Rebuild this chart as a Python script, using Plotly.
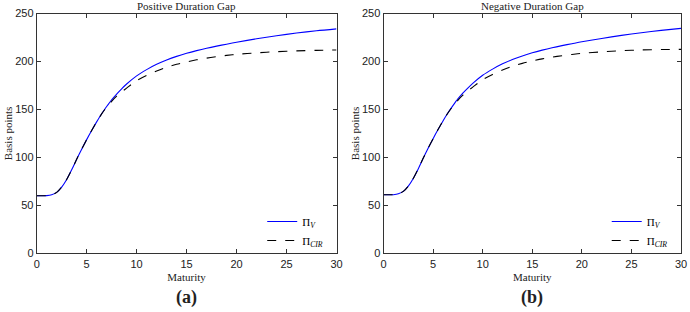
import plotly.graph_objects as go

maturity_a = [0, 0.5, 1, 1.5, 2, 2.5, 3, 3.5, 4, 4.5, 5, 5.5, 6, 6.5, 7, 7.5, 8, 8.5, 9, 10, 11, 12, 13, 14, 15, 16, 17, 18, 19, 20, 22, 24, 26, 28, 30]
pi_v_a = [60, 60, 60.1, 61, 63.5, 69, 77, 87, 98, 108.5, 118.5, 128, 137, 145.5, 153, 160, 166, 171.5, 176.5, 185, 191.5, 197, 201.5, 205.3, 208.5, 211.3, 213.8, 216, 218, 220, 223.6, 226.8, 229.6, 232, 234]
pi_cir_a = [60, 60, 60.1, 61, 63.5, 69, 77, 87, 98, 108.5, 118.5, 128, 137, 145.3, 152.5, 158.5, 163.8, 168.2, 172.2, 180, 185.5, 190, 194, 197, 199.5, 201.7, 203.5, 205, 206.3, 207.4, 209, 210.2, 211, 211.6, 212]

maturity_b = [0, 0.5, 1, 1.5, 2, 2.5, 3, 3.5, 4, 4.5, 5, 5.5, 6, 6.5, 7, 7.5, 8, 8.5, 9, 10, 11, 12, 13, 14, 15, 16, 17, 18, 19, 20, 22, 24, 26, 28, 30]
pi_v_b = [61, 61, 61.1, 62, 64.5, 70, 78, 88, 99, 109.5, 119.5, 129, 138, 146.5, 154, 161, 167, 172.3, 177.2, 185.6, 192, 197.5, 202, 205.8, 209, 211.8, 214.3, 216.5, 218.5, 220.5, 224, 227.2, 230, 232.4, 234.5]
pi_cir_b = [61, 61, 61.1, 62, 64.5, 70, 78, 88, 99, 109.5, 119.5, 129, 138, 146.3, 153.5, 159.5, 164.8, 169.2, 173.2, 181, 186.5, 191, 195, 198, 200.5, 202.7, 204.5, 206, 207.3, 208.4, 210, 211.2, 212, 212.4, 212.6]

titles = ["Positive Duration Gap", "Negative Duration Gap"]
labels = ["(a)", "(b)"]
x_ticks = [0, 5, 10, 15, 20, 25, 30]
y_ticks = [0, 50, 100, 150, 200, 250]

W, H = 690, 312
serif = "Liberation Serif"
sans = "Liberation Sans"

fig = go.Figure()

panels = [
    (maturity_a, pi_v_a, pi_cir_a, "x", "y", "legend"),
    (maturity_b, pi_v_b, pi_cir_b, "x2", "y2", "legend2"),
]
for mx, v, c, xa, ya, lg in panels:
    fig.add_trace(go.Scatter(x=mx, y=v, mode="lines", name="Π<sub><i>V</i></sub>",
                             line=dict(color="#0000ff", width=1.1, shape="spline", smoothing=0.8),
                             xaxis=xa, yaxis=ya, legend=lg))
    fig.add_trace(go.Scatter(x=mx, y=c, mode="lines", name="Π<sub><i>CIR</i></sub>",
                             line=dict(color="black", width=1.1, dash="dash", shape="spline", smoothing=0.8),
                             xaxis=xa, yaxis=ya, legend=lg))

x_dom = [(36.7 / W, 336.5 / W), (383.5 / W, 681 / W)]
y_dom = (1 - 253.3 / H, 1 - 13.5 / H)

axis_common = dict(showline=True, linecolor="#333333", linewidth=1, mirror="ticks",
                   ticks="inside", ticklen=4, tickcolor="#333333", showgrid=False,
                   zeroline=False, automargin=False,
                   tickfont=dict(family=sans, size=11, color="#222222"))
title_font = dict(family=serif, size=11, color="#222222")

fig.update_layout(
    width=W, height=H, margin=dict(l=0, r=0, t=0, b=0),
    paper_bgcolor="white", plot_bgcolor="white",
    xaxis=dict(domain=x_dom[0], range=[0, 30], tickvals=x_ticks, anchor="y",
               title=dict(text="Maturity", font=title_font, standoff=4), **axis_common),
    yaxis=dict(domain=y_dom, range=[0, 250], tickvals=y_ticks, anchor="x",
               title=dict(text="Basis points", font=title_font, standoff=0), **axis_common),
    xaxis2=dict(domain=x_dom[1], range=[0, 30], tickvals=x_ticks, anchor="y2",
                title=dict(text="Maturity", font=title_font, standoff=4), **axis_common),
    yaxis2=dict(domain=y_dom, range=[0, 250], tickvals=y_ticks, anchor="x2",
                title=dict(text="Basis points", font=title_font, standoff=0), **axis_common),
    legend=dict(x=x_dom[0][1] - 0.012, y=1 - 207 / H, xanchor="right", yanchor="top",
                bgcolor="rgba(0,0,0,0)", font=dict(family=serif, size=11, color="black"),
                tracegroupgap=0),
    legend2=dict(x=x_dom[1][1] - 0.012, y=1 - 207 / H, xanchor="right", yanchor="top",
                 bgcolor="rgba(0,0,0,0)", font=dict(family=serif, size=11, color="black"),
                 tracegroupgap=0),
    showlegend=True,
)

for i in range(2):
    cx = (x_dom[i][0] + x_dom[i][1]) / 2
    fig.add_annotation(x=cx, y=1 - 5.5 / H, xref="paper", yref="paper", text=titles[i],
                       showarrow=False, font=dict(family=serif, size=11, color="#222222"),
                       xanchor="center", yanchor="middle")
    fig.add_annotation(x=cx, y=1 - 297 / H, xref="paper", yref="paper", text="<b>" + labels[i] + "</b>",
                       showarrow=False, font=dict(family=serif, size=18, color="#222222"),
                       xanchor="center", yanchor="middle")

fig.write_html("out.html", config={"displayModeBar": False},
               post_script="document.body.style.margin='0';")
